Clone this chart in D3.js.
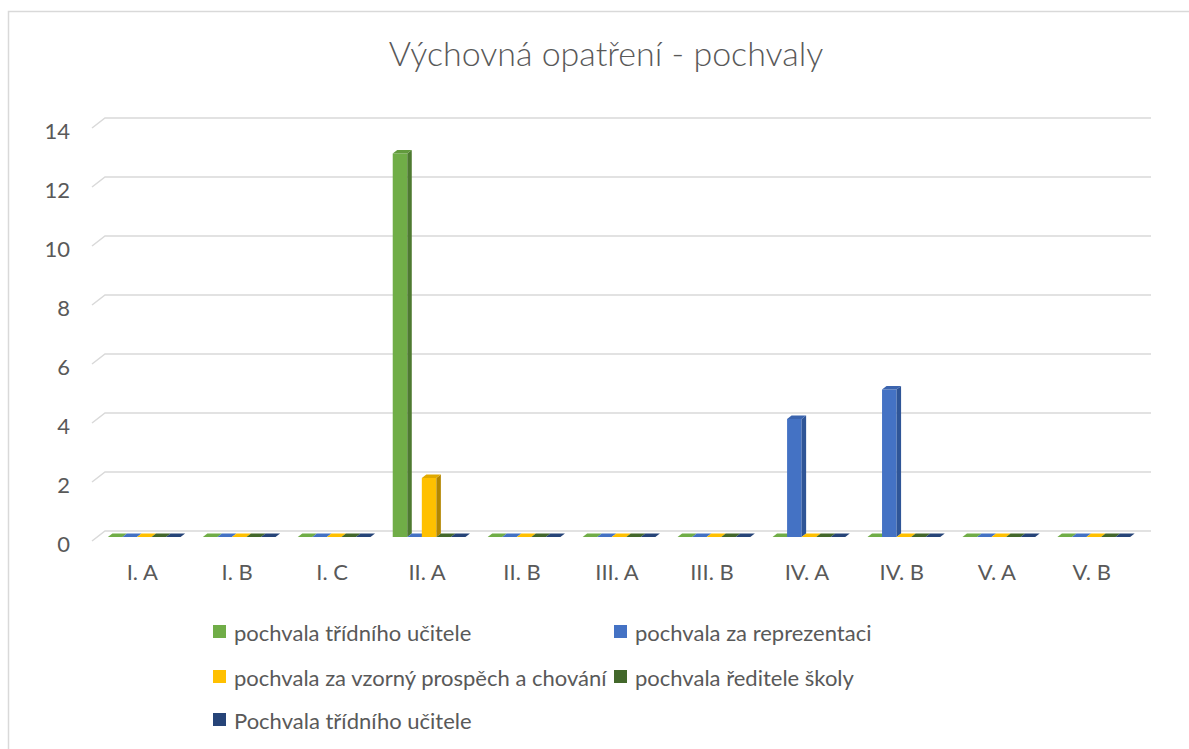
<!DOCTYPE html>
<html>
<head>
<meta charset="utf-8">
<script src="https://cdn.jsdelivr.net/npm/d3@7"></script>
<style>
  body { margin: 0; background: #fff; }
  text { font-family: Lato, "Open Sans", sans-serif; fill: #595959; }
</style>
</head>
<body>
<script>
// data
var categories = ["I. A", "I. B", "I. C", "II. A", "II. B", "III. A", "III. B", "IV. A", "IV. B", "V. A", "V. B"];
var seriesNames = [
    "pochvala třídního učitele",
    "pochvala za reprezentaci",
    "pochvala za vzorný prospěch a chování",
    "pochvala ředitele školy",
    "Pochvala třídního učitele"
];
var tridniUcitel   = [0, 0, 0, 13, 0, 0, 0, 0, 0, 0, 0];
var reprezentace   = [0, 0, 0, 0, 0, 0, 0, 4, 5, 0, 0];
var vzornyProspech = [0, 0, 0, 2, 0, 0, 0, 0, 0, 0, 0];
var reditelSkoly   = [0, 0, 0, 0, 0, 0, 0, 0, 0, 0, 0];
var tridniUcitel2  = [0, 0, 0, 0, 0, 0, 0, 0, 0, 0, 0];
var yTicks = [0, 2, 4, 6, 8, 10, 12, 14];

var seriesValues = [tridniUcitel, reprezentace, vzornyProspech, reditelSkoly, tridniUcitel2];
var front = ["#70ad47", "#4472c4", "#ffc000", "#43682b", "#264478"];
var side  = ["#4e7a31", "#2f5597", "#b38600", "#2e481e", "#1a3054"];
var top_  = ["#629a3d", "#3b64ae", "#e0a900", "#3a5a25", "#213b69"];

var w = 1189,
    h = 749,
    dx = 4.5,   // depth offset of the bars
    dy = -3.5;

var svg = d3.select("body")
    .append("svg")
    .attr("width", w)
    .attr("height", h);

// chart border
svg.append("rect")
    .attr("x", 8.5).attr("y", 11.5)
    .attr("width", 1200).attr("height", 800)
    .style("fill", "none")
    .style("stroke", "#d9d9d9")
    .style("stroke-width", 1.5);

svg.append("text")
    .attr("x", 606)
    .attr("y", 66)
    .attr("text-anchor", "middle")
    .style("font-size", "34px")
    .style("font-weight", 300)
    .text("Výchovná opatření - pochvaly");

var x = d3.scaleBand()
    .domain(categories)
    .range([96, 1142])
    .paddingInner(0.234)
    .paddingOuter(0.125);

var xs = d3.scaleBand()
    .domain(d3.range(seriesNames.length))
    .range([0, x.bandwidth()]);

var y = d3.scaleLinear()
    .domain([0, 14])
    .range([537, 124]);

// gridlines on the back wall plus the little slant on the side wall
var grid = svg.append("g").style("stroke", "#d9d9d9").style("stroke-width", 1.5).style("fill", "none");
grid.selectAll("path")
    .data(yTicks)
    .enter()
    .append("path")
    .attr("d", function(d) {
        return "M92," + (y(d) + 4) + "L105," + (y(d) - 6) + "H1151";
    });

svg.selectAll("text.ytick")
    .data(yTicks)
    .enter()
    .append("text")
    .attr("class", "ytick")
    .attr("x", 70)
    .attr("y", function(d) { return y(d) + 6; })
    .attr("text-anchor", "end")
    .attr("dominant-baseline", "central")
    .style("font-size", "22px")
    .text(function(d) { return d; });

svg.selectAll("text.xlab")
    .data(categories)
    .enter()
    .append("text")
    .attr("class", "xlab")
    .attr("x", function(d) { return x(d) + x.bandwidth() / 2 - 2; })
    .attr("y", 580)
    .attr("text-anchor", "middle")
    .style("font-size", "22px")
    .text(function(d) { return d; });

// 3d bars: front, side and top faces
var bars = [];
seriesValues.forEach(function(vals, s) {
    vals.forEach(function(v, i) {
        bars.push({ s: s, cat: categories[i], v: v });
    });
});

var g = svg.selectAll("g.bar")
    .data(bars)
    .enter()
    .append("g")
    .attr("class", "bar");

g.each(function(d) {
    var el = d3.select(this),
        x0 = x(d.cat) + xs(d.s),
        x1 = x0 + xs.bandwidth(),
        y0 = y(0),
        y1 = y(d.v);
    if (d.v > 0) {
        el.append("rect")
            .attr("x", x0).attr("y", y1)
            .attr("width", x1 - x0).attr("height", y0 - y1)
            .style("fill", front[d.s]);
        el.append("path")
            .attr("d", "M" + x1 + "," + y0 + "L" + x1 + "," + y1 + "L" + (x1 + dx) + "," + (y1 + dy) + "L" + (x1 + dx) + "," + (y0 + dy) + "Z")
            .style("fill", side[d.s]);
    }
    el.append("path")
        .attr("d", "M" + x0 + "," + y1 + "L" + x1 + "," + y1 + "L" + (x1 + dx) + "," + (y1 + dy) + "L" + (x0 + dx) + "," + (y1 + dy) + "Z")
        .style("fill", d.v > 0 ? top_[d.s] : front[d.s]);
});

// legend
var legendPos = [[213, 632], [614, 632], [213, 677], [614, 677], [213, 720]];
var lg = svg.selectAll("g.legend")
    .data(seriesNames)
    .enter()
    .append("g")
    .attr("class", "legend")
    .attr("transform", function(d, i) { return "translate(" + legendPos[i][0] + "," + legendPos[i][1] + ")"; });

lg.append("rect")
    .attr("x", 0).attr("y", -7)
    .attr("width", 13).attr("height", 13)
    .style("fill", function(d, i) { return front[i]; });

lg.append("text")
    .attr("x", 21)
    .attr("y", 0)
    .attr("dominant-baseline", "central")
    .style("font-size", "22px")
    .text(function(d) { return d; });
</script>
</body>
</html>
